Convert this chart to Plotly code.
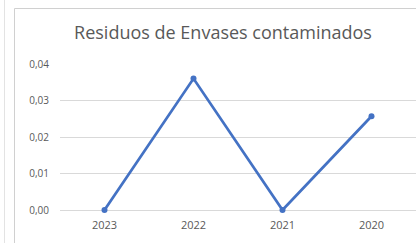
import plotly.graph_objects as go

years = ["2023", "2022", "2021", "2020"]
values = [0.0, 0.036, 0.0, 0.0257]
y_ticks = [0, 0.01, 0.02, 0.03, 0.04]
y_tick_labels = ["0,00", "0,01", "0,02", "0,03", "0,04"]
title_text = "Residuos de Envases contaminados"

W, H = 416, 243
L, R, T, B = 60, 0, 64, 33
pw, ph = W - L - R, H - T - B

def px(x):
    return (x - L) / pw

def py(y):
    return (H - B - y) / ph

fig = go.Figure()
fig.add_trace(go.Scatter(
    x=years, y=values, mode="lines+markers",
    line=dict(color="#4472C4", width=2.75),
    marker=dict(color="#4472C4", size=6),
    cliponaxis=False,
))

fig.update_layout(
    width=W, height=H,
    margin=dict(l=L, r=R, t=T, b=B),
    paper_bgcolor="white", plot_bgcolor="white",
    showlegend=False,
    title=dict(text=title_text, x=px(223), xanchor="center", xref="paper",
               y=1 - 33 / H, yanchor="middle",
               font=dict(family="Open Sans", size=18, color="#595959")),
    xaxis=dict(type="category", range=[-0.5, 3.5], showgrid=False,
               showline=False, zeroline=False, ticks="", ticklabelstandoff=7,
               tickfont=dict(family="Open Sans", size=11, color="#595959")),
    yaxis=dict(range=[0, 0.04], tickvals=y_ticks, ticktext=y_tick_labels,
               showgrid=True, gridcolor="#D9D9D9", gridwidth=1,
               zeroline=True, zerolinecolor="#D9D9D9", zerolinewidth=1,
               showline=False, ticks="", ticklabelstandoff=10,
               tickfont=dict(family="Open Sans", size=10, color="#595959")),
    shapes=[
        dict(type="line", xref="paper", yref="paper",
             x0=px(14.5), x1=px(14.5), y0=py(8.5), y1=py(243),
             line=dict(color="#D0D0D0", width=1)),
        dict(type="line", xref="paper", yref="paper",
             x0=px(14.5), x1=px(420), y0=py(8.5), y1=py(8.5),
             line=dict(color="#D0D0D0", width=1)),
        dict(type="line", xref="paper", yref="paper",
             x0=px(4.5), x1=px(4.5), y0=py(0), y1=py(243),
             line=dict(color="#E3E3E3", width=1)),
    ],
)

fig.write_html("out.html", config={"displayModeBar": False},
               post_script="document.body.style.margin='0';")
